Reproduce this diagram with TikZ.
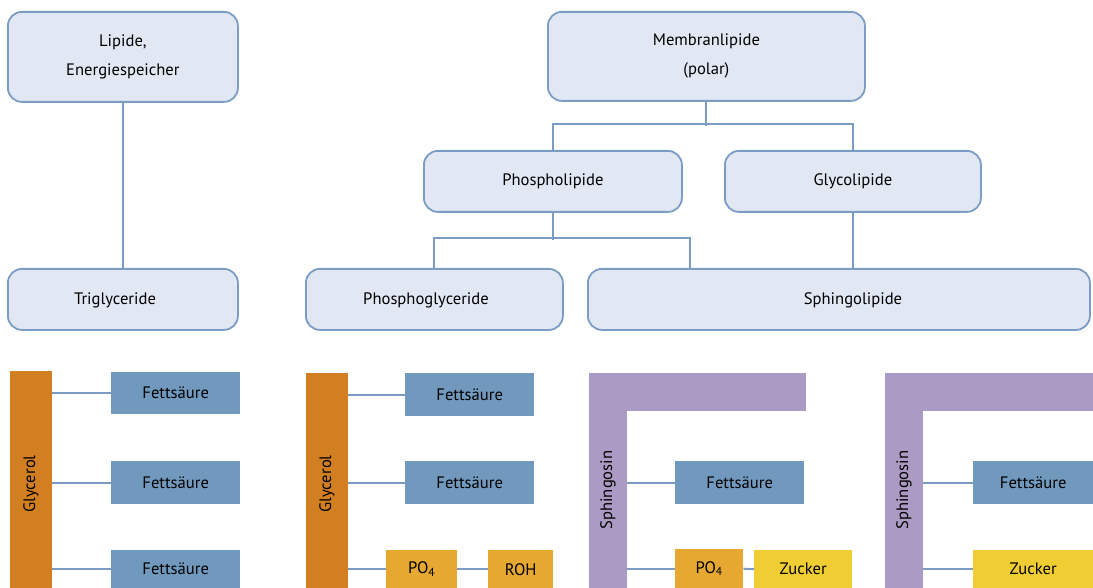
\documentclass[tikz,border=0pt]{standalone}
\usepackage{fontspec}
\setmainfont{PT Sans}
\definecolor{lineblue}{HTML}{7B9DC3}
\definecolor{boxfill}{HTML}{E2E8F3}
\definecolor{fsblue}{HTML}{7199BE}
\definecolor{glyorange}{HTML}{D17F21}
\definecolor{sphpurple}{HTML}{AB9AC3}
\definecolor{poorange}{HTML}{E6A830}
\definecolor{zuyellow}{HTML}{F0CE33}
\begin{document}
\begin{tikzpicture}[x=1pt,y=-1pt,
  box/.style={draw=lineblue, line width=1.8pt, fill=boxfill, rounded corners=14pt, anchor=north west, inner sep=0pt, font=\fontsize{16.6}{29}\selectfont, align=center},
  conn/.style={draw=lineblue, line width=2pt},
  blk/.style={anchor=north west, inner sep=0pt, font=\fontsize{16.6}{19}\selectfont},
  fs/.style={blk, fill=fsblue},
  gly/.style={blk, fill=glyorange},
  sph/.style={blk, fill=sphpurple},
  po/.style={blk, fill=poorange},
  zu/.style={blk, fill=zuyellow},
  vtext/.style={rotate=90, font=\fontsize{16.6}{19}\selectfont}]
\useasboundingbox (0,0) rectangle (1093,588);
% top hierarchy
\node[box, minimum width=230pt, minimum height=90pt] (lip) at (7,11) {Lipide,\\Energiespeicher};
\node[box, minimum width=230pt, minimum height=61pt] (tri) at (7,268) {};
\node[font=\fontsize{16.6}{19}\selectfont] (tritext) at (115,300) {Triglyceride};
\node[box, minimum width=317pt, minimum height=89pt] (mem) at (547,11) {Membranlipide\\(polar)};
\node[box, minimum width=258pt, minimum height=61pt] (phos) at (423,150) {Phospholipide};
\node[box, minimum width=256pt, minimum height=61pt] (glyc) at (724,150) {Glycolipide};
\node[box, minimum width=257pt, minimum height=61pt] (pg) at (305,268) {};
\node[font=\fontsize{16.6}{19}\selectfont] (pgtext) at (426,300) {Phosphoglyceride};
\node[box, minimum width=502pt, minimum height=61pt] (sp) at (587,268) {};
\node[font=\fontsize{16.6}{19}\selectfont] (sptext) at (853,300) {Sphingolipide};
\coordinate (spA) at (690,268);

\draw[conn] (lip.south) -- (tri.north);
\draw[conn] (mem.south) -- ++(0,24);
\draw[conn] (phos.north) -- ++(0,-26) -| (glyc.north);
\draw[conn] (phos.south) -- ++(0,27);
\draw[conn] (pg.north) -- ++(0,-30) -| (spA);
\draw[conn] (glyc.south) -- (glyc.south |- sp.north);

% panel 1
\node[gly, minimum width=42pt, minimum height=217pt] (g1) at (10,371) {};
\node[vtext] (g1t) at (31,484) {Glycerol};
\node[fs, minimum width=129pt, minimum height=42pt] (f1) at (111,372) {Fettsäure};
\node[fs, minimum width=129pt, minimum height=43pt] (f2) at (111,461) {Fettsäure};
\node[fs, minimum width=129pt, minimum height=38pt] (f3) at (111,550) {Fettsäure};
\draw[conn] (g1.east |- f1.west) -- (f1.west);
\draw[conn] (g1.east |- f2.west) -- (f2.west);
\draw[conn] (g1.east |- f3.west) -- (f3.west);

% panel 2
\node[gly, minimum width=42pt, minimum height=215pt] (g2) at (306,373) {};
\node[vtext] (g2t) at (327,484) {Glycerol};
\node[fs, minimum width=129pt, minimum height=43pt] (f4) at (405,373) {Fettsäure};
\node[fs, minimum width=129pt, minimum height=43pt] (f5) at (405,461) {Fettsäure};
\node[po, minimum width=71pt, minimum height=38pt] (po1) at (386,550) {PO\textsubscript{4}};
\node[po, minimum width=65pt, minimum height=38pt] (roh) at (488,550) {ROH};
\draw[conn] (g2.east |- f4.west) -- (f4.west);
\draw[conn] (g2.east |- f5.west) -- (f5.west);
\draw[conn] (g2.east |- po1.west) -- (po1.west);
\draw[conn] (po1.east) -- (roh.west);

% panel 3
\node[sph, minimum width=217pt, minimum height=38pt] (s1top) at (589,373) {};
\node[sph, minimum width=38pt, minimum height=215pt] (s1) at (589,373) {};
\node[vtext] (s1t) at (608,490) {Sphingosin};
\node[fs, minimum width=129pt, minimum height=43pt] (f6) at (675,461) {Fettsäure};
\node[po, minimum width=68pt, minimum height=39pt] (po2) at (675,549) {PO\textsubscript{4}};
\node[zu, minimum width=98pt, minimum height=38pt] (zu1) at (754,550) {Zucker};
\draw[conn] (s1.east |- f6.west) -- (f6.west);
\draw[conn] (s1.east |- po2.west) -- (po2.west);
\draw[conn] (po2.east) -- (zu1.west);

% panel 4
\node[sph, minimum width=208pt, minimum height=38pt] (s2top) at (885,373) {};
\node[sph, minimum width=38pt, minimum height=215pt] (s2) at (885,373) {};
\node[vtext] (s2t) at (904,490) {Sphingosin};
\node[fs, minimum width=120pt, minimum height=43pt] (f7) at (973,461) {Fettsäure};
\node[zu, minimum width=120pt, minimum height=38pt] (zu2) at (973,550) {Zucker};
\draw[conn] (s2.east |- f7.west) -- (f7.west);
\draw[conn] (s2.east |- zu2.west) -- (zu2.west);
\end{tikzpicture}
\end{document}
